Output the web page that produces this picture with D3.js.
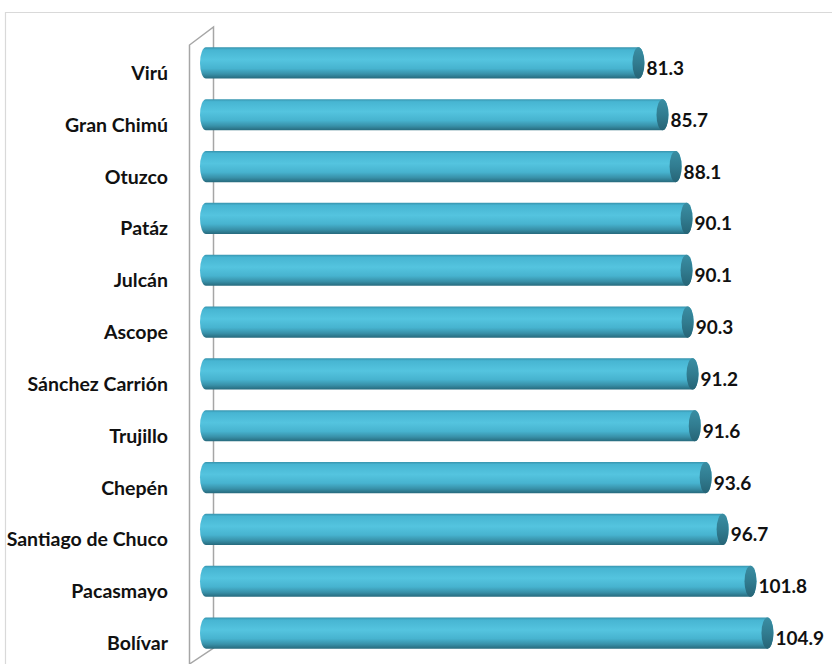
<!DOCTYPE html>
<html>
<head>
<meta charset="utf-8">
<script src="https://cdn.jsdelivr.net/npm/d3@7"></script>
<style>
	body { margin: 0; background: #fff; }
	svg { display: block; }
	.cat { font-family: Lato, "Open Sans", sans-serif; font-weight: 700; font-size: 19.5px; fill: #111; }
	.val { font-family: Lato, "Open Sans", sans-serif; font-weight: 700; font-size: 19px; fill: #111; }
</style>
</head>
<body>
<div id="chart"></div>
<script>

// provinces, top to bottom
const provinces = [ "Virú", "Gran Chimú", "Otuzco", "Patáz", "Julcán", "Ascope",
	"Sánchez Carrión", "Trujillo", "Chepén", "Santiago de Chuco", "Pacasmayo", "Bolívar" ];
const values = [ 81.3, 85.7, 88.1, 90.1, 90.1, 90.3, 91.2, 91.6, 93.6, 96.7, 101.8, 104.9 ];

const width = 832, height = 664;

const svg = d3.select( "#chart" ).append( "svg" )
	.attr( "width", width )
	.attr( "height", height );

const defs = svg.append( "defs" );
const grad = defs.append( "linearGradient" )
	.attr( "id", "cyl" )
	.attr( "x1", 0 ).attr( "y1", 0 ).attr( "x2", 0 ).attr( "y2", 1 );
[ [ 0, "#3794ae" ], [ 0.08, "#47b5d2" ], [ 0.4, "#54c4df" ], [ 0.68, "#47b3cf" ],
  [ 0.86, "#3890a8" ], [ 1, "#276a7d" ] ].forEach( s =>
	grad.append( "stop" ).attr( "offset", s[ 0 ] ).attr( "stop-color", s[ 1 ] ) );

const capGrad = defs.append( "linearGradient" )
	.attr( "id", "cap" )
	.attr( "x1", 0 ).attr( "y1", 0 ).attr( "x2", 0 ).attr( "y2", 1 );
[ [ 0, "#3a8ea3" ], [ 0.5, "#317c90" ], [ 1, "#266476" ] ].forEach( s =>
	capGrad.append( "stop" ).attr( "offset", s[ 0 ] ).attr( "stop-color", s[ 1 ] ) );

// outer frame
svg.append( "path" )
	.attr( "d", "M5.5," + height + "V12.5H" + width )
	.attr( "fill", "none" )
	.attr( "stroke", "#d9d9d9" )
	.attr( "stroke-width", 1.2 );

const x = d3.scaleLinear().domain( [ 0, 120 ] ).range( [ 200, 856 ] );
const y = d3.scaleBand().domain( provinces ).range( [ 37, 659 ] ).paddingInner( 0.4 ).paddingOuter( 0.2 );

// side wall of the 3d plot
const wall = svg.append( "g" )
	.attr( "fill", "none" )
	.attr( "stroke", "#a6a6a6" )
	.attr( "stroke-width", 1.5 );
wall.append( "path" ).attr( "d", "M189.5,668V45L213.5,27V648L189.5,664" );

const rx = 6;
const bars = svg.append( "g" )
	.selectAll( "g" )
	.data( provinces )
	.join( "g" );

bars.append( "path" )
	.attr( "fill", "url(#cyl)" )
	.attr( "d", ( d, i ) => {
		const y0 = y( d ), h = y.bandwidth(), ry = h / 2;
		const xl = x( 0 ) + rx, xr = x( values[ i ] ) - rx;
		return "M" + xl + "," + y0 + "H" + xr +
			"A" + rx + "," + ry + " 0 0 1 " + xr + "," + ( y0 + h ) +
			"H" + xl +
			"A" + rx + "," + ry + " 0 0 1 " + xl + "," + y0 + "Z";
	} );

bars.append( "ellipse" )
	.attr( "fill", "url(#cap)" )
	.attr( "cx", ( d, i ) => x( values[ i ] ) - rx )
	.attr( "cy", d => y( d ) + y.bandwidth() / 2 )
	.attr( "rx", rx )
	.attr( "ry", y.bandwidth() / 2 );

bars.append( "text" )
	.attr( "class", "val" )
	.attr( "x", ( d, i ) => x( values[ i ] ) + 2 )
	.attr( "y", d => y( d ) + y.bandwidth() / 2 + 12 )
	.text( ( d, i ) => values[ i ].toFixed( 1 ) );

svg.append( "g" )
	.selectAll( "text" )
	.data( provinces )
	.join( "text" )
		.attr( "class", "cat" )
		.attr( "text-anchor", "end" )
		.attr( "x", 168 )
		.attr( "y", d => y( d ) + y.bandwidth() / 2 + 17 )
		.text( d => d );

</script>
</body>
</html>
